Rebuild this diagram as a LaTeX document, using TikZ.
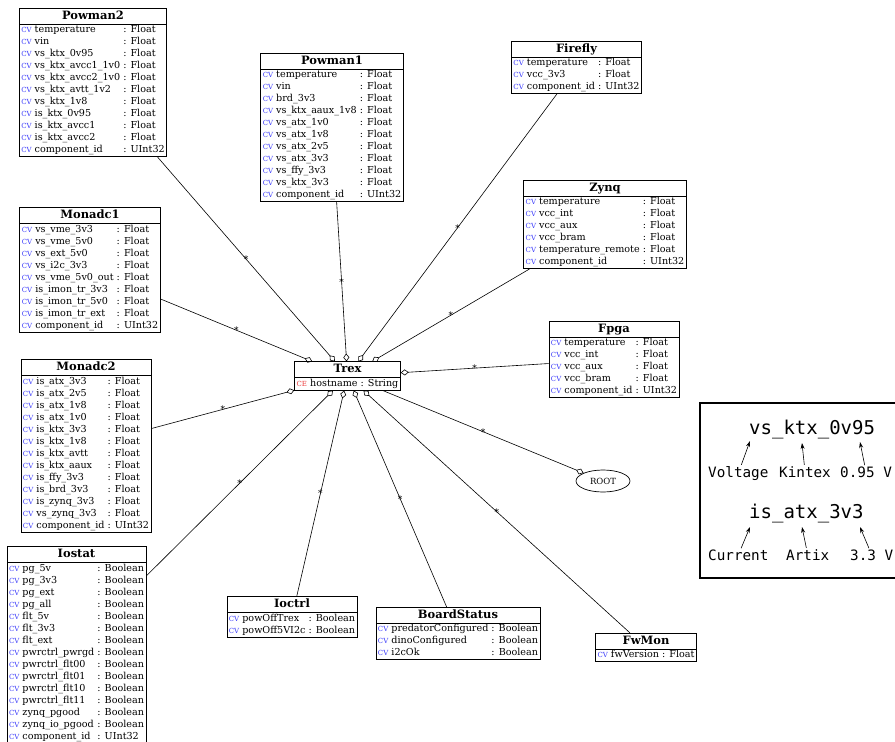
\documentclass[tikz,border=0pt]{standalone}
\usepackage{fontspec}
\setmainfont{DejaVu Serif}
\setmonofont{DejaVu Sans Mono}
\usetikzlibrary{shapes.multipart,shapes.geometric,arrows.meta}

\definecolor{cvblue}{RGB}{60,60,250}
\definecolor{cered}{RGB}{235,60,60}

% class markers and rows
\newcommand{\cvmark}{{\color{cvblue}\fontsize{7}{7}\selectfont CV}\ }
\newcommand{\cemark}{{\color{cered}\fontsize{7}{7}\selectfont CE}\ }
\newcommand{\attr}[2]{\cvmark #1 & : #2\\}
\newcommand{\clstitle}[1]{{\fontsize{11.5}{15}\selectfont\bfseries\strut #1}}

\begin{document}
\begin{tikzpicture}[x=1pt,y=-1pt,
  cls/.style={rectangle split,rectangle split parts=2,draw,line width=0.7pt,
    inner xsep=2pt,inner ysep=0pt,font=\fontsize{9.6}{12}\selectfont},
  aggr/.style={{Diamond[open,length=8pt,width=6pt]}-,line width=0.6pt},
  mult/.style={font=\fontsize{9}{9}\selectfont,inner sep=1pt},
  lbl/.style={font=\ttfamily\fontsize{14.3}{15}\selectfont,inner sep=1pt,anchor=base west},
  big/.style={font=\ttfamily\fontsize{19}{19}\selectfont,inner sep=1pt,anchor=base west},
  pointer/.style={-{Stealth[length=6pt,width=4pt]},line width=0.6pt}]

\useasboundingbox (0,0) rectangle (895,742);
\clip (0,0) rectangle (895,742);

% ---- Trex in the middle ----
\node[cls] (trex) at (347.5,376) {\clstitle{Trex}\nodepart{two}
  \begin{tabular}{@{}l@{}}\cemark hostname : String\\\end{tabular}};

% ---- Components ----
\node[cls] (powman2) at (93,82.5) {\clstitle{Powman2}\nodepart{two}
  \begin{tabular}{@{}l@{\ }l@{}}
  \attr{temperature}{Float}
  \attr{vin}{Float}
  \attr{vs\_ktx\_0v95}{Float}
  \attr{vs\_ktx\_avcc1\_1v0}{Float}
  \attr{vs\_ktx\_avcc2\_1v0}{Float}
  \attr{vs\_ktx\_avtt\_1v2}{Float}
  \attr{vs\_ktx\_1v8}{Float}
  \attr{is\_ktx\_0v95}{Float}
  \attr{is\_ktx\_avcc1}{Float}
  \attr{is\_ktx\_avcc2}{Float}
  \attr{component\_id}{UInt32}
  \end{tabular}};

\node[cls] (powman1) at (332,127.5) {\clstitle{Powman1}\nodepart{two}
  \begin{tabular}{@{}l@{\ }l@{}}
  \attr{temperature}{Float}
  \attr{vin}{Float}
  \attr{brd\_3v3}{Float}
  \attr{vs\_ktx\_aaux\_1v8}{Float}
  \attr{vs\_atx\_1v0}{Float}
  \attr{vs\_atx\_1v8}{Float}
  \attr{vs\_atx\_2v5}{Float}
  \attr{vs\_atx\_3v3}{Float}
  \attr{vs\_ffy\_3v3}{Float}
  \attr{vs\_ktx\_3v3}{Float}
  \attr{component\_id}{UInt32}
  \end{tabular}};

\node[cls] (firefly) at (576.5,67.5) {\clstitle{Firefly}\nodepart{two}
  \begin{tabular}{@{}l@{\ }l@{}}
  \attr{temperature}{Float}
  \attr{vcc\_3v3}{Float}
  \attr{component\_id}{UInt32}
  \end{tabular}};

\node[cls] (zynq) at (605,224.5) {\clstitle{Zynq}\nodepart{two}
  \begin{tabular}{@{}l@{\ }l@{}}
  \attr{temperature}{Float}
  \attr{vcc\_int}{Float}
  \attr{vcc\_aux}{Float}
  \attr{vcc\_bram}{Float}
  \attr{temperature\_remote}{Float}
  \attr{component\_id}{UInt32}
  \end{tabular}};

\node[cls] (monadc1) at (90,270) {\clstitle{Monadc1}\nodepart{two}
  \begin{tabular}{@{}l@{\ }l@{}}
  \attr{vs\_vme\_3v3}{Float}
  \attr{vs\_vme\_5v0}{Float}
  \attr{vs\_ext\_5v0}{Float}
  \attr{vs\_i2c\_3v3}{Float}
  \attr{vs\_vme\_5v0\_out}{Float}
  \attr{is\_imon\_tr\_3v3}{Float}
  \attr{is\_imon\_tr\_5v0}{Float}
  \attr{is\_imon\_tr\_ext}{Float}
  \attr{component\_id}{UInt32}
  \end{tabular}};

\node[cls] (fpga) at (614,359.5) {\clstitle{Fpga}\nodepart{two}
  \begin{tabular}{@{}l@{\ }l@{}}
  \attr{temperature}{Float}
  \attr{vcc\_int}{Float}
  \attr{vcc\_aux}{Float}
  \attr{vcc\_bram}{Float}
  \attr{component\_id}{UInt32}
  \end{tabular}};

\node[cls] (monadc2) at (86,446) {\clstitle{Monadc2}\nodepart{two}
  \begin{tabular}{@{}l@{\ }l@{}}
  \attr{is\_atx\_3v3}{Float}
  \attr{is\_atx\_2v5}{Float}
  \attr{is\_atx\_1v8}{Float}
  \attr{is\_atx\_1v0}{Float}
  \attr{is\_ktx\_3v3}{Float}
  \attr{is\_ktx\_1v8}{Float}
  \attr{is\_ktx\_avtt}{Float}
  \attr{is\_ktx\_aaux}{Float}
  \attr{is\_ffy\_3v3}{Float}
  \attr{is\_brd\_3v3}{Float}
  \attr{is\_zynq\_3v3}{Float}
  \attr{vs\_zynq\_3v3}{Float}
  \attr{component\_id}{UInt32}
  \end{tabular}};

\node[cls] (iostat) at (76.5,645) {\clstitle{Iostat}\nodepart{two}
  \begin{tabular}{@{}l@{\ }l@{}}
  \attr{pg\_5v}{Boolean}
  \attr{pg\_3v3}{Boolean}
  \attr{pg\_ext}{Boolean}
  \attr{pg\_all}{Boolean}
  \attr{flt\_5v}{Boolean}
  \attr{flt\_3v3}{Boolean}
  \attr{flt\_ext}{Boolean}
  \attr{pwrctrl\_pwrgd}{Boolean}
  \attr{pwrctrl\_flt00}{Boolean}
  \attr{pwrctrl\_flt01}{Boolean}
  \attr{pwrctrl\_flt10}{Boolean}
  \attr{pwrctrl\_flt11}{Boolean}
  \attr{zynq\_pgood}{Boolean}
  \attr{zynq\_io\_pgood}{Boolean}
  \attr{component\_id}{UInt32}
  \end{tabular}};

\node[cls] (ioctrl) at (292,617) {\clstitle{Ioctrl}\nodepart{two}
  \begin{tabular}{@{}l@{\ }l@{}}
  \attr{powOffTrex}{Boolean}
  \attr{powOff5VI2c}{Boolean}
  \end{tabular}};

\node[cls] (boardstatus) at (458,633.5) {\clstitle{BoardStatus}\nodepart{two}
  \begin{tabular}{@{}l@{\ }l@{}}
  \attr{predatorConfigured}{Boolean}
  \attr{dinoConfigured}{Boolean}
  \attr{i2cOk}{Boolean}
  \end{tabular}};

\node[cls] (fwmon) at (646,647.5) {\clstitle{FwMon}\nodepart{two}
  \begin{tabular}{@{}l@{}}\cvmark fwVersion : Float\\\end{tabular}};

\node[ellipse,draw,line width=0.7pt,minimum width=54pt,minimum height=22pt,
  inner sep=0pt,font=\fontsize{8.5}{8.5}\selectfont] (root) at (603,481) {ROOT};

% ---- Connections ----
\draw[aggr] (trex) -- node[mult]{*} (powman2);
\draw[aggr] (trex) -- node[mult]{*} (powman1);
\draw[aggr] (trex) -- node[mult]{*} (firefly);
\draw[aggr] (trex) -- node[mult]{*} (zynq);
\draw[aggr] (trex) -- node[mult]{*} (monadc1);
\draw[aggr] (trex) -- node[mult]{*} (fpga);
\draw[aggr] (trex) -- node[mult]{*} (monadc2);
\draw[aggr] (trex) -- node[mult]{*} (iostat);
\draw[aggr] (trex) -- node[mult]{*} (ioctrl);
\draw[aggr] (trex) -- node[mult]{*} (boardstatus);
\draw[aggr] (trex) -- node[mult]{*} (fwmon);
\draw[aggr] (root) -- node[mult]{*} (trex);

% ---- Naming legend ----
\draw[line width=1.6pt] (700,403) rectangle (910,578);

\node[big] (ex1) at (748,434) {vs\_ktx\_0v95};
\node[lbl] (volt) at (707,477) {Voltage};
\node[lbl] (kintex) at (778,477) {Kintex};
\node[lbl] (v095) at (839,477) {0.95 V};
\coordinate (vs) at (750,441);
\coordinate (ktx) at (802,443);
\coordinate (v0v95) at (860,442);
\draw[pointer] (volt) -- (vs);
\draw[pointer] (kintex) -- (ktx);
\draw[pointer] (v095) -- (v0v95);

\node[big] (ex2) at (748,518) {is\_atx\_3v3};
\node[lbl] (curr) at (707,560) {Current};
\node[lbl] (artix) at (785,560) {Artix};
\node[lbl] (v33) at (849,560) {3.3 V};
\coordinate (is) at (750,527);
\coordinate (atx) at (802,527);
\coordinate (v3v3) at (860,527);
\draw[pointer] (curr) -- (is);
\draw[pointer] (artix) -- (atx);
\draw[pointer] (v33) -- (v3v3);

\end{tikzpicture}
\end{document}
